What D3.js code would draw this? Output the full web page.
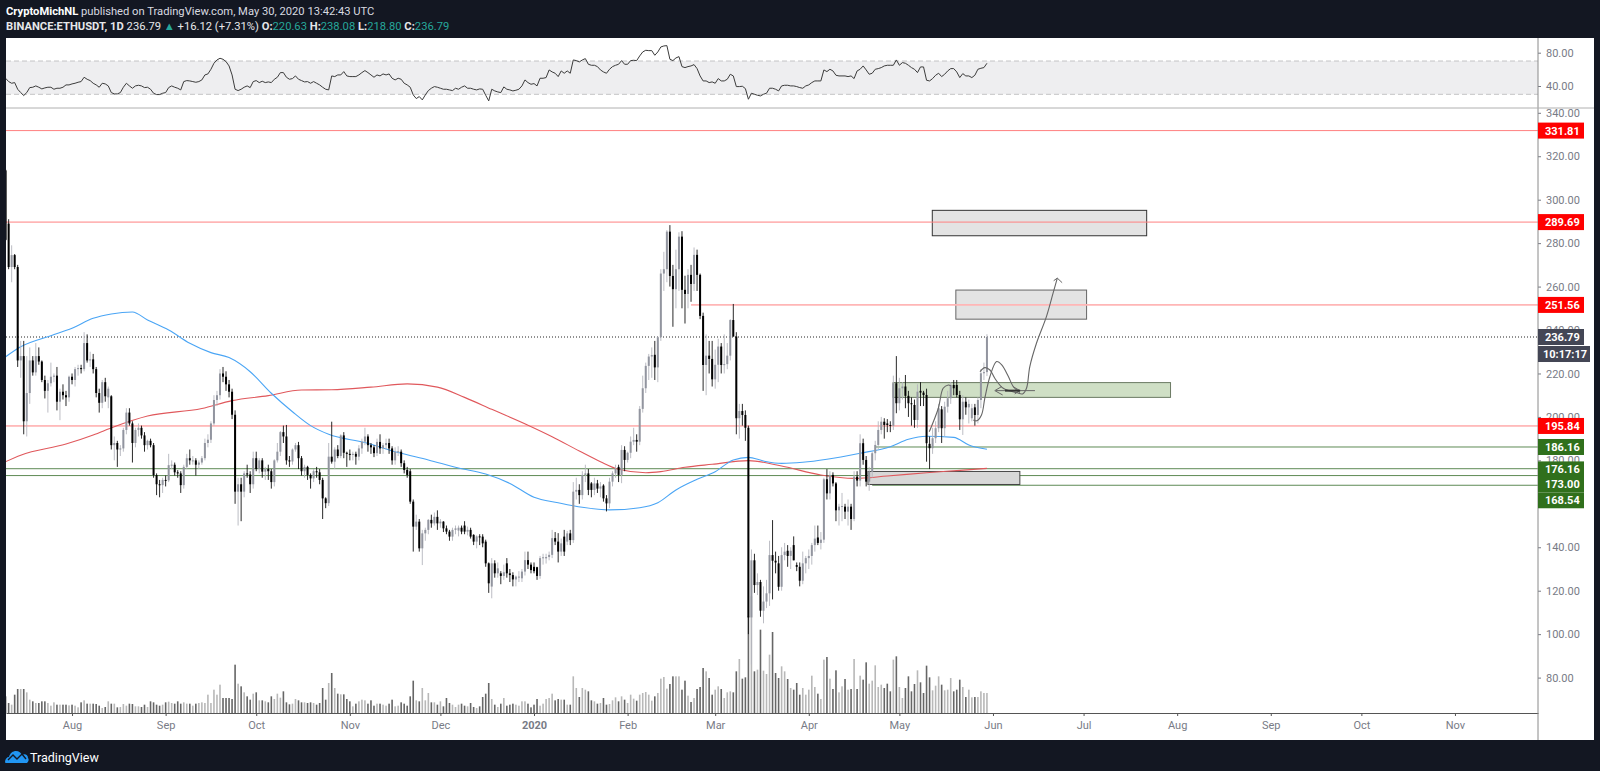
<!DOCTYPE html>
<html>
<head>
<meta charset="utf-8">
<title>ETHUSDT</title>
<script src="https://cdn.jsdelivr.net/npm/d3@7"></script>
<style>
  html, body { margin: 0; padding: 0; background: #131722; }
  svg { display: block; }
  text { font-family: Roboto, "Open Sans", sans-serif; }
</style>
</head>
<body>
<div id="chart"></div>
<script>
// Daily candles, first one is Jul 10 2019 (day 1), last May 30 2020 (day 326)
var opens = [
  313.5,289,269,274.5,269,226,228,198,211,226,
  220.5,228,225.5,217,212,215.5,218.5,219,207,211.6,
  210,209,218.5,217,222,222.5,222,234,226,226.5,
  222,211,206.5,216,209,209.5,187,188,185,185.5,
  194,202,197,188,194,195,191.5,187,189,187,
  173.2,169,168.6,171,170.8,177.8,178,174.5,174,168.6,
  177,181,180,180,178,179,181,188,189.5,197,
  207.8,210,220,218.5,215,211.6,201,165.6,169,165.6,
  174,173.5,169,181,176,180,174.8,176,175,170,
  180,184,193,191,180,179.5,185,187,181,175,
  177,173.3,171.7,175,174.5,171,162.5,160.3,181.7,179.4,
  185,182,191.5,183.5,183,182.5,183,181.7,185.5,188.6,
  191,187,186,183.3,188.5,185.5,187,188,185.5,180,
  184,184,178.7,175.6,175,161,149.5,151.8,139.5,146.4,
  148,152.6,151,154,151,151.8,148.7,147.2,144.9,148,
  147.7,149,150,147.2,148,145.7,142.6,145,144.9,142.6,
  132.6,121.9,132.6,128,128,126.8,132.6,128,127.2,125.2,
  126.5,125.7,128.8,134.1,132,131,130.8,126.8,135,134.9,
  135.5,136.5,144.2,142.6,138,144.9,142.6,146.4,143.3,165.6,
  166.4,164,173.3,174,169.4,166.4,169.4,167,168.4,162.5,
  160.2,170.2,174,177,173.3,184.8,180.2,183.5,188.6,189.4,
  188.6,203.7,213.2,223.5,227.8,228.6,222.8,236.7,266,268,
  285.3,264.9,258.8,268,283,258.5,256.6,265.4,261.2,274.6,
  265.4,246.5,223.9,228.2,226.7,217.3,224,232.4,223.9,224.3,
  228.2,244.6,237,199.4,202.7,200.9,195,107.7,134,122.6,
  124,110.8,115,118.8,136.4,133.8,132.6,121.8,136.4,138.4,
  136,141,131.8,131,124.6,132.6,135,136,141,144.5,
  142,143.5,171.3,164.8,173.3,169.4,157,158.7,158.7,156.4,
  158.7,153,172.5,170.7,187.9,180.2,170.2,174.8,183.3,187.1,
  194,197.8,197,196.3,195.9,215.5,206.3,213.2,214,209.7,
  206.3,205.5,198.6,212,211.2,210.1,187.6,185.6,190.2,194.8,
  203.5,194.8,204.7,208.6,214.7,214.7,210.1,198.9,207,204.4,
  199.4,204.4,200.9,207.8,220.1,220.63
];
var highs = [
  314,291,279,275,270,235,235,228,232,228,
  234,232,226,219,217,225,220,223,213,215,
  212,219,220,223,224,224,239,238,230,229,
  223,213,217,218,214,210,191,189,187,195,
  204,204,198,195,197,196,193,189.5,190,188,
  174,171,172,173,183,180,179,175.5,175,178,
  183,185,182,181,180,182,190,192,198,210,
  212,222,223,221,217,213,203,172,172,175,
  178,175,184,184,181,181,177,178,176,180.5,
  188,193.5,196,196.3,182,185.5,188,188.5,182,178,
  177.5,174,176,177,176,172,163,188,197.8,186,
  187,192,193,184,185,184,184,187,190,195,
  192,188,187,190,192,188,190,190,186.5,186,
  186.5,185,180,177,176,162,155,153,148,149,
  153,155,156,157,153,152,150,148,149,150,
  150,150,152,149.5,149,146,145.5,146,146,143.5,
  133,135,134,133,129,132,135,130,128.5,127,
  129,130,138,138,133,133,131,136,137,137,
  138,148,147,146.5,144,148,147.5,148,170,172,
  169,175,178,176,170,172,171,170,169,164,
  172,175,178,178,187,186.5,184,191,195,192,
  205,219,225,229,232,235,237,268,276,286,
  288.3,270,277,285,285.5,265,268,270,278,277,
  266,248,238,235,235,231,236,234,238,234,
  245,252,239,206,206,203,196,139,137,128,
  125,122,125,143,152.5,138,136,140,142,141,
  140,145,133,133,138,136,139,142,150,150,
  147,172,176,175,174.5,170,160,165,160,162,
  160,175,175,192,190,182,177,184,189,198,
  200,199.4,199,198,219,228,218,216,219.3,212,
  209,208,215,216,212,213,191,195,198,206,
  205,207,212,216,217,217,212,210,209,208,
  206,206,209,222,225,238.08
];
var lows = [
  281,268,262,268,223,218,192,191,206,219,
  219,224,216,208.5,202,214,216,203,198.5,208,
  205,207,215,214,219,220,221,225,223,220,
  209,202,204,207,204,185,180,177,182,184,
  192,196,179,186,191,190,184,185,186,172,
  164,163,165,168,170,176,173,172,165,167,
  176,178,178,173,176,178,180,186,188,196,
  205,208,216,212,209,199,160,150,152,163,
  172,165,167,175,174,172,171,171,167,168,
  179,182,188,178,177,178,184,176,173,172,
  171,167,170,172,169,153,158,159,178.5,176,
  181,181,181,177,180,180,178,180,183,187,
  184,183,181.5,182,183,183,185,183,178,178,
  182,177,174,172,160,138,148,138,131.8,143,
  146,149,150,148,149,147,146,143,143,146,
  145,146,146,145.5,144,141,139.5,141,140,131,
  119,116.5,126,126,123,125,126,124,122,122,
  124,124,127,130,128,128,125,125.5,132,132.5,
  134,135,141,133,136,136,141,141,142,162,
  160,162,170,164,163,164,165,163,161,156.5,
  158,168,172,170,169.5,175,179,181,187,184,
  187,202,211,217,218,217,216,235,258,262,
  260,241.5,250,258,250,243,250,253,258,258,
  245,212,210,220,214,213,216,220,220,222,
  226,237,192,190,196,189,100,86,119,118,
  108,105,112,113,116,128,120,120,134,131,
  130,134,129,122,123,128,130,132,138,141,
  139,142,162,162,168,152,150,152,153,150,
  148,152,168,168,178,168,166,172,180,185,
  192,190,193,193,194,201.7,203,208,204,200,
  196,195,195,205,205,179.4,176,183,188,193,
  188,191,202,206,210,209,194,191.7,201,197,
  198,196,197,204,217,218.8
];
var closes = [
  281.5,269,274.5,269,226,228,198,211,226,220.5,
  228,225.5,217,212,215.5,218.5,219,207,211.6,210,
  209,218.5,217,222,222.5,222,234,226,226.5,222,
  211,206.5,216,209.5,213,187,188,185,185.5,194,
  202,197,188,194,195,191.5,187,189,187,173.2,
  169,168.6,171,170.8,177.8,178,174.5,174,168.6,177,
  181,180,180,178,179,181,188,189.5,197,207.8,
  210,220,218.5,215,211.6,201,165.6,169,165.6,174,
  173.5,169,181,176,180,174.8,176,175,170,180,
  184,193,191,180,179.5,185,187,181,175,177,
  173.3,171.7,175,174.5,171,162.5,160.3,181.7,179.4,185,
  182,191.5,183.5,183,182.5,183,181.7,185.5,188.6,191,
  187,186,183.3,188.5,185.5,187,188,185.5,180,184,
  184.2,178.7,175.6,173.3,161,149.5,151.8,139.5,146.4,148,
  152.6,151,154,151,151.8,148.7,147.2,144.9,148,148.7,
  149,147.2,147.2,148,144.9,142.6,145,144.9,141.8,132.6,
  123.4,132.6,128,130.3,126.8,128.5,128,127.2,125.2,126.5,
  126.5,128.8,134.1,132,129.5,129,126.8,135,135.4,135.5,
  136.5,144.2,142.6,138,141.8,138,146.4,143.3,165.6,166.4,
  164,173.3,174,166.4,166.4,169.4,167,168,162.5,160.2,
  170.2,174,176.2,173.3,184.8,180.2,183.5,188.6,189.4,188.6,
  203.7,213.2,223.5,227.8,228.5,222.8,236.7,266,268,285.3,
  264.9,258.8,268,283,258.5,256.6,265.4,261.2,274.6,265.4,
  246.5,223.9,228.2,226.7,217.3,224,232.4,223.9,224.3,228.2,
  244.6,237,199.4,202.7,200.9,195,107.7,134,122.6,124,
  110.8,115,118.8,136.4,133.8,133,121.8,136.4,138,136,
  138.4,134,131,124.6,132.6,135,136,141,144,142,
  143.5,171.3,164.8,173.3,169.4,157,158.7,159,156.4,158.7,
  153,172.5,170.7,187.9,180.2,170.2,174.8,183.3,187.1,194,
  197.8,196.3,196.3,195.9,215.5,206.3,213.2,214,209.7,206.3,
  206,198.6,211.6,211.2,210.1,187.9,185.6,190.2,194.8,204,
  194.8,204.7,208.6,214.7,213.2,210.1,198.9,207,204.4,206,
  204,200.9,207.8,220.1,220.63,236.79
];
var volumes = [
  50,30,25,55,72,72,72,62,40,35,
  30,30,35,35,30,22,32,25,25,25,
  25,23,25,22,17,32,38,28,28,28,
  27,22,15,18,35,28,28,17,18,27,
  22,28,27,20,20,18,25,18,35,32,
  25,22,25,32,34,30,28,35,28,32,
  28,28,22,28,30,32,30,55,30,70,
  55,85,45,45,45,42,145,88,80,62,
  50,40,58,62,38,38,35,32,50,42,
  58,46,65,32,26,28,42,38,32,32,
  30,32,30,25,30,75,40,90,120,75,
  58,56,56,42,35,20,28,35,40,38,
  28,38,22,28,28,25,22,28,40,20,
  22,32,28,22,50,97,38,35,75,38,
  60,32,32,25,35,20,45,30,25,18,
  25,28,22,20,30,18,15,20,48,58,
  90,42,25,18,28,45,22,25,28,25,
  22,35,35,28,17,25,42,22,28,42,
  45,58,38,42,40,40,25,25,110,75,
  48,75,70,65,38,35,28,30,45,25,
  27,38,47,35,50,40,30,55,43,37,
  55,60,63,55,37,50,60,103,108,73,
  87,110,110,110,70,97,52,33,45,72,
  78,135,125,105,55,70,80,72,45,62,
  65,62,125,162,103,107,290,350,125,130,
  250,127,117,175,243,120,105,140,125,102,
  75,70,90,55,75,55,70,112,78,58,
  42,160,168,103,72,128,62,80,102,70,
  72,162,72,112,100,152,88,97,143,78,
  85,75,88,65,160,170,78,45,75,110,
  65,87,128,92,60,142,107,68,82,110,
  85,68,70,105,65,70,100,78,48,70,
  47,48,48,65,60,60
];
var rsiValues = [
  49.3,45.3,43.3,44.1,36.1,32.1,28.5,32.1,38.1,38.5,
  40.1,38.5,36.5,37.7,38.5,38.5,36.1,37.3,37.3,38.5,
  41.3,41.3,42.5,43.3,44.5,45.3,50.5,48.1,46.5,43.3,
  41.3,38.5,43.3,42.5,40.1,32.1,30.5,30.5,32.1,38.5,
  43.3,40.1,37.3,40.1,40.9,40.1,38.1,38.5,36.1,31.3,
  29.7,29.7,31.3,32.1,38.1,40.1,38.5,37.3,35.3,45.3,
  46.5,46.1,45.3,44.5,45.3,47.3,53.3,54.5,60.1,67.3,
  71.3,73.3,72.1,69.3,64.1,53.3,36.1,34.5,36.1,38.5,
  40.1,38.1,45.3,46.5,44.1,45.7,44.1,44.9,44.1,48.1,
  50.5,56.1,56.1,50.5,48.1,48.9,52.1,48.1,46.5,44.9,
  45.3,43.3,45.3,43.3,41.3,38.5,36.1,35.3,52.1,51.3,
  53.3,53.3,57.3,52.1,51.3,51.3,51.3,53.3,56.1,58.5,
  56.1,53.3,50.5,53.3,52.1,54.5,53.3,54.5,49.3,47.3,
  49.3,48.1,43.3,41.3,38.5,29.3,24.9,27.3,23.3,29.3,
  34.5,37.3,39.3,38.5,37.3,36.1,36.1,35.3,34.5,37.3,
  36.1,38.5,40.1,37.3,37.3,36.1,35.3,36.5,36.1,28.9,
  22.1,36.1,34.1,32.9,32.1,38.9,36.1,35.3,34.1,34.9,
  36.1,40.1,47.3,44.1,42.1,42.9,40.1,49.3,49.3,50.1,
  59.3,56.9,55.3,51.3,58.1,55.3,58.1,55.3,71.3,70.5,
  68.9,71.3,72.9,66.1,64.9,64.9,63.3,59.3,56.9,55.3,
  60.1,63.3,64.9,66.1,70.5,66.1,66.1,70.5,70.9,70.5,
  76.1,80.9,82.9,82.5,82.5,76.9,80.9,86.9,88.1,88.5,
  72.1,70.5,73.7,75.3,63.3,62.1,63.3,64.1,65.7,60.9,
  52.1,46.1,46.1,44.1,44.9,43.3,48.9,46.1,46.1,48.1,
  54.1,52.1,39.3,39.3,39.7,36.9,24.1,31.3,30.1,28.9,
  28.1,30.1,31.3,37.3,37.3,36.1,34.1,40.1,40.9,40.9,
  40.1,40.1,39.3,38.1,37.3,40.1,41.3,44.1,46.1,46.1,
  46.1,59.3,57.3,60.1,58.1,52.9,52.1,52.1,52.1,51.3,
  52.1,48.9,58.1,60.1,64.1,59.3,54.1,55.3,60.1,60.9,
  62.1,64.1,64.9,64.9,64.9,71.3,64.9,68.1,67.3,64.9,
  62.1,60.1,56.1,62.9,62.9,46.9,46.1,48.9,52.9,55.3,
  51.3,54.1,58.1,60.9,60.9,56.9,50.1,54.9,52.1,52.1,
  50.1,52.9,60.1,61.3,62.1,67.3
];

var maBlueDays = [1,6,16,23,30,36,43,48,55,62,69,75,82,89,96,102,108,120,131,141,151,160,168,176,184,192,201,211,217,223,230,236,242,247,252,258,265,273,284,294,300,306,315,320,326];
var maBlue = [227.7,232.3,237.4,240.8,245.4,247.4,248.3,244.6,240,233.9,229.6,227.3,220.8,210.9,202.4,196,192,188.2,183.6,180.2,176.5,173.7,169.4,163,160.5,158.4,157.2,158.2,160.5,166.4,171.3,174.8,180.2,181.4,179.7,178.6,179.1,180.5,183.3,186.3,189.7,191.1,190.6,187.1,185.1];
var maRedDays = [1,6,21,30,37,48,66,76,88,99,109,122,134,144,153,162,174,182,191,198,204,213,218,226,235,247,258,271,282,293,306,316,326];
var maRed = [179.4,182.4,187.5,191.7,195.5,200.4,203.9,207.5,209.8,212.4,212.5,213.7,215.2,213.7,209,203.5,196.2,190.9,184.3,179.4,175.9,174.3,174.8,176.8,178.2,179.9,177.4,173.3,171.7,172.8,174.3,175.3,176.3];

// axis ticks (160 sits fully behind the green price tags)
var priceTicks = [340,320,300,280,260,240,220,200,180,140,120,100,80];
var rsiTicks = [80,40];
var monthDays = [23,54,84,115,145,176,207,236,267,297,328,358,389,420,450,481];
var monthLabels = ["Aug","Sep","Oct","Nov","Dec","2020","Feb","Mar","Apr","May","Jun","Jul","Aug","Sep","Oct","Nov"];

// horizontal levels: price and the day each one starts on
var redLevels = [331.81,289.69,251.56,195.84];
var redLevelStart = [1.13,1.13,228,1.13];
var greenLevels = [186.16,176.16,173.00,168.54];
var greenLevelStart = [289,1.13,1.13,288];

// drawn zones in day / price
var zoneStart = [307.9,315.7,294.9,286.6];
var zoneEnd = [378.9,359,386.8,336.9];
var zoneTop = [295.1,258.4,215.8,174.9];
var zoneBottom = [283.4,245,209,168.9];
var zoneFill = ["#e3e3e3","#e3e3e3","#cfdfc5","#d8d8d8"];
var zoneStroke = ["#333333","#666666","#6b7a63","#444444"];

// hand drawn projection strokes, [day, price]
var strokeA = [[306.9,193.2],[309.9,204],[311.5,213.2],[313.2,214.7],[314,214.4]];
var strokeB = [[321.5,198.6],[322.6,198.2],[324.2,200.9],[325.3,208.6],[327,218.6],[329.2,225.5],[330.9,224],[333.1,218.6],[334.7,214],[336.9,211.2]];
var strokeC = [[323.7,220.8],[325.3,222.7],[327,221.6],[328.6,217.8],[331.4,213.2],[335.8,211.2],[337.8,210.6],[339.1,213.2],[340.2,223.2],[342.4,233.9],[345.7,246.2],[347.9,257],[349.3,263.9]];
var arrowTip = [[348.1,262.7],[349.3,263.9],[350.9,261.8]];
var crossLine = [[329,212.1],[341.9,212.1]];
var crossThick = [[332,212.1],[337,212.1]];
var crossLeft = [[330.9,214],[328.6,212.1],[331.2,210.1]];
var crossRight = [[334.6,214],[336.9,212.1],[335.2,210.6]];

var lastPrice = 236.79;
var countdown = "10:17:17";

// ---- page geometry
var width = 1600, height = 771;
var paneLeft = 6, paneRight = 1594, axisX = 1538;
var paneTop = 38, rsiBottom = 108, paneBottom = 740, volBase = 713;

var days = d3.range(1, closes.length + 1);

var svg = d3.select("#chart").append("svg")
  .attr("width", width)
  .attr("height", height);

// Scales
var x = d3.scaleLinear().domain([1.13, 508.5]).range([paneLeft, axisX]);
var yPrice = d3.scaleLinear().domain([340, 80]).range([112.8, 677.6]);
var yRsi = d3.scaleLinear().domain([80, 40]).range([52.7, 86]);
var yVol = d3.scaleLinear().domain([0, 300]).range([volBase, volBase - 100]);

svg.append("rect")
  .attr("x", paneLeft).attr("y", paneTop)
  .attr("width", paneRight - paneLeft).attr("height", paneBottom - paneTop)
  .attr("fill", "#ffffff");

svg.append("clipPath").attr("id", "rsiClip").append("rect")
  .attr("x", paneLeft).attr("y", paneTop)
  .attr("width", axisX - paneLeft).attr("height", rsiBottom - paneTop);
svg.append("clipPath").attr("id", "mainClip").append("rect")
  .attr("x", paneLeft).attr("y", rsiBottom)
  .attr("width", axisX - paneLeft).attr("height", volBase - rsiBottom);

// RSI pane
var rsiPane = svg.append("g").attr("clip-path", "url(#rsiClip)");
rsiPane.append("rect")
  .attr("x", paneLeft).attr("y", yRsi(70))
  .attr("width", axisX - paneLeft).attr("height", yRsi(30) - yRsi(70))
  .attr("fill", "#eeeef0");
[70, 30].forEach(function(level) {
  rsiPane.append("line")
    .attr("x1", paneLeft).attr("x2", axisX)
    .attr("y1", yRsi(level)).attr("y2", yRsi(level))
    .attr("stroke", "#c4c4c6")
    .attr("stroke-dasharray", "5,3");
});
rsiPane.append("path")
  .datum(rsiValues)
  .attr("fill", "none")
  .attr("stroke", "#3c3c3c")
  .attr("stroke-width", 1)
  .attr("d", d3.line().x(function(d, i) { return x(days[i]); }).y(function(d) { return yRsi(d); }));

// Main pane
var main = svg.append("g").attr("clip-path", "url(#mainClip)");

// Volume sits under everything
main.selectAll("rect.vol")
  .data(days)
  .enter()
  .append("rect")
  .attr("class", "vol")
  .attr("x", function(d) { return x(d) - 0.8; })
  .attr("y", function(d) { return yVol(volumes[d - 1]); })
  .attr("width", 1.6)
  .attr("height", function(d) { return volBase - yVol(volumes[d - 1]); })
  .attr("fill", function(d) { return closes[d - 1] >= opens[d - 1] ? "#b8b8b8" : "#666666"; });

// Zones, the gray one at the bottom goes on after the levels because it hides them
function drawZone(order) {
  main.append("rect")
    .attr("x", x(zoneStart[order]))
    .attr("y", yPrice(zoneTop[order]))
    .attr("width", x(zoneEnd[order]) - x(zoneStart[order]))
    .attr("height", yPrice(zoneBottom[order]) - yPrice(zoneTop[order]))
    .attr("fill", zoneFill[order])
    .attr("stroke", zoneStroke[order])
    .attr("stroke-width", 1);
}
drawZone(0);
drawZone(1);
drawZone(2);

// Levels
main.selectAll("line.red")
  .data(redLevels)
  .enter()
  .append("line")
  .attr("class", "red")
  .attr("x1", function(d, i) { return x(redLevelStart[i]); })
  .attr("x2", axisX)
  .attr("y1", function(d) { return yPrice(d); })
  .attr("y2", function(d) { return yPrice(d); })
  .attr("stroke", function(d) { return d === 251.56 ? "#ffb6b6" : "#ff8080"; })
  .attr("stroke-width", function(d) { return d === 251.56 ? 1.6 : 1; });

main.selectAll("line.green")
  .data(greenLevels)
  .enter()
  .append("line")
  .attr("class", "green")
  .attr("x1", function(d, i) { return x(greenLevelStart[i]); })
  .attr("x2", axisX)
  .attr("y1", function(d) { return yPrice(d); })
  .attr("y2", function(d) { return yPrice(d); })
  .attr("stroke", "#5e8a55")
  .attr("stroke-width", 1);

main.append("line")
  .attr("x1", paneLeft).attr("x2", axisX)
  .attr("y1", yPrice(lastPrice)).attr("y2", yPrice(lastPrice))
  .attr("stroke", "#222222")
  .attr("stroke-dasharray", "1,2");

drawZone(3);

// Moving averages
main.append("path")
  .attr("fill", "none")
  .attr("stroke", "#e0585c")
  .attr("stroke-width", 1.1)
  .attr("d", d3.line().curve(d3.curveMonotoneX)
    .x(function(d) { return x(d); })
    .y(function(d, i) { return yPrice(maRed[i]); })(maRedDays));
main.append("path")
  .attr("fill", "none")
  .attr("stroke", "#4aa5f5")
  .attr("stroke-width", 1.1)
  .attr("d", d3.line().curve(d3.curveMonotoneX)
    .x(function(d) { return x(d); })
    .y(function(d, i) { return yPrice(maBlue[i]); })(maBlueDays));

// Candles
main.selectAll("line.wick")
  .data(days)
  .enter()
  .append("line")
  .attr("class", "wick")
  .attr("x1", function(d) { return x(d); })
  .attr("x2", function(d) { return x(d); })
  .attr("y1", function(d) { return yPrice(highs[d - 1]); })
  .attr("y2", function(d) { return yPrice(lows[d - 1]); })
  .attr("stroke", function(d) { return closes[d - 1] >= opens[d - 1] ? "#b4b6bd" : "#111111"; })
  .attr("stroke-width", 0.9);

main.selectAll("rect.body")
  .data(days)
  .enter()
  .append("rect")
  .attr("class", "body")
  .attr("x", function(d) { return x(d) - 1; })
  .attr("width", 2)
  .attr("y", function(d) { return yPrice(Math.max(opens[d - 1], closes[d - 1])); })
  .attr("height", function(d) { return Math.max(1, Math.abs(yPrice(opens[d - 1]) - yPrice(closes[d - 1]))); })
  .attr("fill", function(d) { return closes[d - 1] >= opens[d - 1] ? "#92959f" : "#000000"; });

// Projection sketch on top of the candles
var sketch = d3.line().curve(d3.curveCatmullRom).x(function(d) { return x(d[0]); }).y(function(d) { return yPrice(d[1]); });
var straight = d3.line().x(function(d) { return x(d[0]); }).y(function(d) { return yPrice(d[1]); });
[strokeA, strokeB, strokeC].forEach(function(pts) {
  main.append("path").attr("d", sketch(pts)).attr("fill", "none").attr("stroke", "#666666").attr("stroke-width", 1.1);
});
[arrowTip, crossLine, crossLeft, crossRight].forEach(function(pts) {
  main.append("path").attr("d", straight(pts)).attr("fill", "none").attr("stroke", "#666666").attr("stroke-width", 1);
});
main.append("path").attr("d", straight(crossThick)).attr("fill", "none").attr("stroke", "#333333").attr("stroke-width", 2);

// Axes
var tickColor = "#787b86";

var timeAxis = svg.append("g")
  .attr("transform", "translate(0," + volBase + ")")
  .call(d3.axisBottom(x)
    .tickValues(monthDays)
    .tickFormat(function(d, i) { return monthLabels[i]; })
    .tickSize(3)
    .tickSizeOuter(0)
    .tickPadding(5));
timeAxis.select(".domain").attr("stroke", "#555555");
timeAxis.selectAll(".tick line").attr("stroke", "#555555");
timeAxis.selectAll("text")
  .attr("fill", tickColor)
  .attr("font-size", 11)
  .attr("font-weight", function(d, i) { return monthLabels[i] === "2020" ? 700 : 400; });

var priceAxis = svg.append("g")
  .attr("transform", "translate(" + axisX + ",0)")
  .call(d3.axisRight(yPrice)
    .tickValues(priceTicks)
    .tickFormat(d3.format(".2f"))
    .tickSize(3)
    .tickPadding(5));
priceAxis.select(".domain").remove();
priceAxis.selectAll(".tick line").attr("stroke", "#787b86");
priceAxis.selectAll("text").attr("fill", tickColor).attr("font-size", 11);

var rsiAxis = svg.append("g")
  .attr("transform", "translate(" + axisX + ",0)")
  .call(d3.axisRight(yRsi)
    .tickValues(rsiTicks)
    .tickFormat(d3.format(".2f"))
    .tickSize(3)
    .tickPadding(5));
rsiAxis.select(".domain").remove();
rsiAxis.selectAll(".tick line").attr("stroke", "#787b86");
rsiAxis.selectAll("text").attr("fill", tickColor).attr("font-size", 11);

svg.append("line")
  .attr("x1", axisX).attr("x2", axisX)
  .attr("y1", paneTop).attr("y2", paneBottom)
  .attr("stroke", "#8a8a8a");
svg.append("line")
  .attr("x1", paneLeft).attr("x2", paneRight)
  .attr("y1", rsiBottom).attr("y2", rsiBottom)
  .attr("stroke", "#b0b0b0");

// Price tags on the axis, the crowded green ones get pushed apart
var tagNudge = { "173": 8.5, "168.54": 15, "176.16": 0.7 };
var tagLevels = redLevels.map(function(v) { return { v: v, fill: "#ff0000" }; })
  .concat(greenLevels.map(function(v) { return { v: v, fill: "#30701c" }; }))
  .concat([{ v: lastPrice, fill: "#434655" }]);

var tags = svg.selectAll("g.tag")
  .data(tagLevels)
  .enter()
  .append("g")
  .attr("class", "tag")
  .attr("transform", function(d) {
    return "translate(" + axisX + "," + (yPrice(d.v) + (tagNudge[String(d.v)] || 0)) + ")";
  });
tags.append("rect")
  .attr("x", 0).attr("y", -8)
  .attr("width", 46).attr("height", 16)
  .attr("fill", function(d) { return d.fill; });
tags.append("text")
  .attr("x", 7).attr("y", 4)
  .attr("fill", "#ffffff")
  .attr("font-size", 11)
  .attr("font-weight", 700)
  .text(function(d) { return d.v.toFixed(2); });

// countdown under the last price
var clock = svg.append("g")
  .attr("transform", "translate(" + axisX + "," + (yPrice(lastPrice) + 17) + ")");
clock.append("rect").attr("x", 0).attr("y", -8).attr("width", 52).attr("height", 16).attr("fill", "#434655");
clock.append("text").attr("x", 5).attr("y", 4).attr("fill", "#ffffff").attr("font-size", 11).attr("font-weight", 700).text(countdown);

// Header
var line1 = svg.append("text").attr("x", 6).attr("y", 15).attr("font-size", 11.2).attr("fill", "#d8dae0");
line1.append("tspan").attr("font-weight", 700).attr("fill", "#ffffff").text("CryptoMichNL");
line1.append("tspan").text(" published on TradingView.com, May 30, 2020 13:42:43 UTC");

var green = "#26a69a";
var line2 = svg.append("text").attr("x", 6).attr("y", 30).attr("font-size", 11.2).attr("fill", "#e6e7ea");
line2.append("tspan").attr("font-weight", 700).text("BINANCE:ETHUSDT, 1D");
line2.append("tspan").text("  236.79 ");
line2.append("tspan").attr("fill", green).text("\u25B2");
line2.append("tspan").text(" +16.12 (+7.31%) ");
[["O:", "220.63"], ["H:", "238.08"], ["L:", "218.80"], ["C:", "236.79"]].forEach(function(p) {
  line2.append("tspan").attr("font-weight", 700).text(p[0]);
  line2.append("tspan").attr("fill", green).text(p[1] + " ");
});

// Footer logo
var logo = svg.append("g").attr("transform", "translate(5,749)");
logo.append("path")
  .attr("d", "M0 13 C0 10 2 8 4 8 C5 4 8 2 11 2 C14 2 16 4 17 6 C20 4 23 6 23 9 C24 10 24 12 22 14 L2 14 C1 14 0 14 0 13 Z")
  .attr("fill", "#2196f3");
logo.append("path")
  .attr("d", "M3 11 L8 6 L12 10 L17 5 L21 10")
  .attr("fill", "none").attr("stroke", "#131722").attr("stroke-width", 1.4);
svg.append("text").attr("x", 30).attr("y", 762).attr("font-size", 12.5).attr("fill", "#ffffff").text("TradingView");
</script>
</body>
</html>
